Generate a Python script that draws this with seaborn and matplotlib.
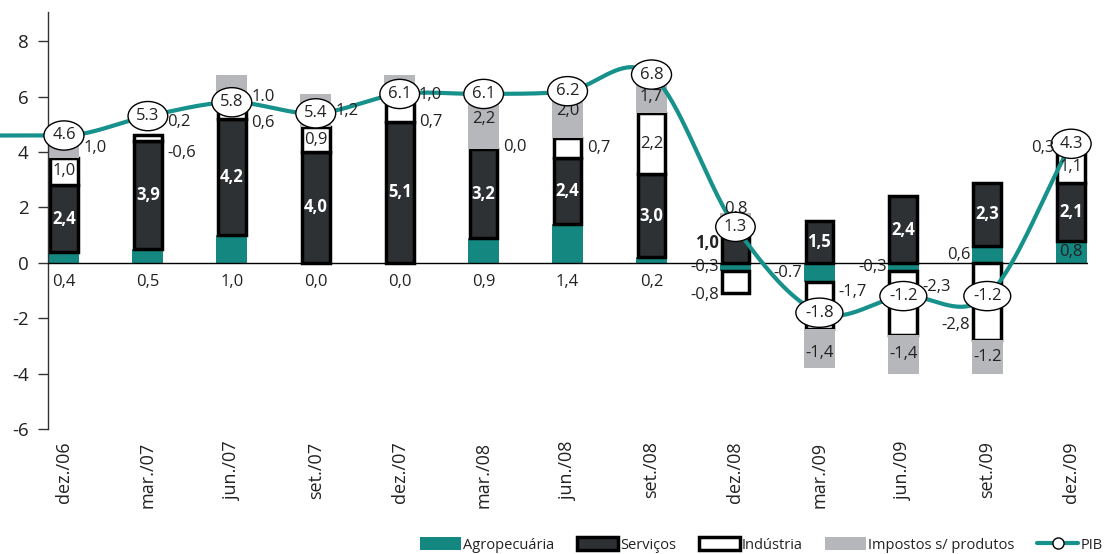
import numpy as np
import matplotlib
matplotlib.use("Agg")
import matplotlib.pyplot as plt
import seaborn as sns
from matplotlib.patches import Patch
from matplotlib.lines import Line2D

# ---- data: contribution of each sector to GDP growth (p.p.) ----
quarters = ["dez./06", "mar./07", "jun./07", "set./07", "dez./07", "mar./08", "jun./08",
            "set./08", "dez./08", "mar./09", "jun./09", "set./09", "dez./09"]
agro = [0.4, 0.5, 1.0, 0.0, 0.0, 0.9, 1.4, 0.2, -0.3, -0.7, -0.3, 0.6, 0.8]
servicos = [2.4, 3.9, 4.2, 4.0, 5.1, 3.2, 2.4, 3.0, 1.0, 1.5, 2.4, 2.3, 2.1]
industria = [1.0, 0.2, 0.6, 0.9, 0.7, 0.0, 0.7, 2.2, -0.8, -1.7, -2.3, -2.8, 1.1]
impostos = [1.0, -0.6, 1.0, 1.2, 1.0, 2.2, 2.0, 1.7, 0.8, -1.4, -1.4, -1.2, 0.3]
pib = [4.6, 5.3, 5.8, 5.4, 6.1, 6.1, 6.2, 6.8, 1.3, -1.8, -1.2, -1.2, 4.3]
y_ticks = [-6, -4, -2, 0, 2, 4, 6, 8]

# ---- styling ----
TEAL = "#148781"
LINE_TEAL = "#17918b"
DARK = "#2e3134"
GRAY = "#b6b7ba"
TXT = "#222222"
LBL = 12  # value label size

sns.set_style("white")
plt.rcParams["font.family"] = ["Open Sans", "DejaVu Sans"]

# label placement: side of the bar and vertical nudge (data units)
AGRO_POS = ["below"] * 8 + ["l", "l", "l", "l", "in"]
SERV_POS = ["in"] * 8 + ["l"] + ["in"] * 4
IND_POS = ["in", "r", "r", "in", "r", "r", "r", "in", "l", "r", "r", "l", "in"]
IMP_POS = ["r", "r", "r", "r", "r", "in", "in", "in", "in", "in", "in", "in", "l"]
SERV_DY = [0] * 8 + [0.2] + [0] * 4
IND_DY = [0, 0.6, -0.45, 0, -0.35, 0.1, 0, 0, -0.45, 0.5, 0.58, -0.85, 0]
IMP_DY = [-0.15, -0.63, -0.3, 0, -0.25, 0, 0, -0.25, 0.55, -0.15, 0, 0, 0]
DOT_LABELS = {("agro", 9), ("imp", 2), ("imp", 11)}

fig = plt.figure(figsize=(11.04, 5.54), dpi=100)
ax = fig.add_axes([48 / 1104, 125 / 554, (1088 - 48) / 1104, 417 / 554])

x = np.arange(len(quarters))
W = 0.37          # plain bars
EDGE_LW = 2.5
W_EDGE = W - 0.04  # outlined bars (outline sits on the border)

series = [
    ("agro", agro, dict(color=TEAL, lw=0), W),
    ("serv", servicos, dict(facecolor=DARK, edgecolor="black", lw=EDGE_LW), W_EDGE),
    ("ind", industria, dict(facecolor="white", edgecolor="black", lw=EDGE_LW), W_EDGE),
    ("imp", impostos, dict(color=GRAY, lw=0), W),
]

pos_base = np.zeros(len(x))
neg_base = np.zeros(len(x))
segments = {}
for name, vals, kw, w in series:
    vals = np.asarray(vals, dtype=float)
    lo = np.zeros(len(x))
    hi = np.zeros(len(x))
    for i, v in enumerate(vals):
        # downward stacking is used for quarters where industry contracted
        downward = v < 0 and industria[i] < 0
        if v >= 0:
            lo[i], hi[i] = pos_base[i], pos_base[i] + v
            pos_base[i] += v
        elif downward:
            lo[i], hi[i] = neg_base[i] + v, neg_base[i]
            neg_base[i] += v
        else:
            lo[i] = hi[i] = pos_base[i]
    heights = hi - lo
    mask = heights > 0
    ax.bar(x[mask], heights[mask], bottom=lo[mask], width=w, zorder=2, **kw)
    segments[name] = (lo, hi)

ax.axhline(0, color="black", lw=1.0, zorder=2.6)


def fmt(v, key):
    s = f"{v:.1f}"
    return s if key in DOT_LABELS else s.replace(".", ",")


def put(name, vals, pos, dys, inner_style):
    lo, hi = segments[name]
    for i, v in enumerate(vals):
        yc = (lo[i] + hi[i]) / 2 + dys[i]
        p = pos[i]
        kw = dict(fontsize=LBL, color=TXT, va="center")
        z = 6
        if p == "in":
            kw.update(inner_style)
            xx, ha, z = x[i], "center", 4
        elif p == "r":
            xx, ha = x[i] + 0.23, "left"
        elif p == "l":
            xx, ha = x[i] - 0.2, "right"
            if name == "serv":
                kw.update(fontweight="bold")
        else:  # under the zero line
            xx, ha, yc = x[i], "center", -0.68
        ax.text(xx, yc, fmt(v, (name, i)), ha=ha, zorder=z, **kw)


put("agro", agro, AGRO_POS, [0] * 13, {})
put("serv", servicos, SERV_POS, SERV_DY, dict(color="white", fontweight="bold"))
put("ind", industria, IND_POS, IND_DY, {})
put("imp", impostos, IMP_POS, IMP_DY, {})

# ---- GDP line: Catmull-Rom style cubic Hermite through the points ----
py = np.asarray(pib, dtype=float)
m = np.zeros_like(py)
m[1:-1] = (py[2:] - py[:-2]) / 2
m[0] = 0.0
m[-1] = py[-1] - py[-2]
xs, ys = [-0.77, 0.0], [py[0], py[0]]
for i in range(len(py) - 1):
    t = np.linspace(0, 1, 40)[1:]
    h00 = 2 * t**3 - 3 * t**2 + 1
    h10 = t**3 - 2 * t**2 + t
    h01 = -2 * t**3 + 3 * t**2
    h11 = t**3 - t**2
    xs.extend(x[i] + t)
    ys.extend(h00 * py[i] + h10 * m[i] + h01 * py[i + 1] + h11 * m[i + 1])
sns.lineplot(x=np.array(xs), y=np.array(ys), sort=False, color=LINE_TEAL,
             lw=3, ax=ax, zorder=3)
ax.lines[-1].set_clip_on(False)

for i, v in enumerate(pib):
    ax.text(x[i], v, f"{v:.1f}", ha="center", va="center", fontsize=LBL, color=TXT, zorder=5,
            bbox=dict(boxstyle="ellipse,pad=0.14", fc="white", ec="black", lw=1.0))

# ---- axes ----
ax.set_xlim(-0.19, 12.2)
ax.set_ylim(-6, 9.06)
ax.set_yticks(y_ticks)
ax.set_yticklabels([str(t) for t in y_ticks], fontsize=13.5, color=TXT)
ax.set_xticks(x)
ax.set_xticklabels(quarters, rotation=90, fontsize=13, color=TXT)
ax.tick_params(axis="x", length=0, pad=9)
ax.tick_params(axis="y", length=7, width=1, color="#333333", pad=7, left=True)
for s in ["top", "right", "bottom"]:
    ax.spines[s].set_visible(False)
ax.spines["left"].set_color("#333333")
ax.spines["left"].set_linewidth(1)
ax.grid(False)

handles = [
    Patch(facecolor=TEAL, edgecolor="none"),
    Patch(facecolor=DARK, edgecolor="black", lw=EDGE_LW),
    Patch(facecolor="white", edgecolor="black", lw=EDGE_LW),
    Patch(facecolor=GRAY, edgecolor="none"),
    Line2D([], [], color=LINE_TEAL, lw=3, marker="o", mfc="white", mec="black", ms=8),
]
labels = ["Agropecuária", "Serviços", "Indústria", "Impostos s/ produtos", "PIB"]
fig.legend(handles, labels, loc="lower right", bbox_to_anchor=(1.0, 0.0), ncol=5,
           frameon=False, fontsize=10.5, handlelength=2.8, handleheight=0.95,
           handletextpad=0.15, columnspacing=1.55, borderpad=0.1, borderaxespad=0.0,
           labelcolor=TXT)

fig.savefig("out.png", dpi=100)
